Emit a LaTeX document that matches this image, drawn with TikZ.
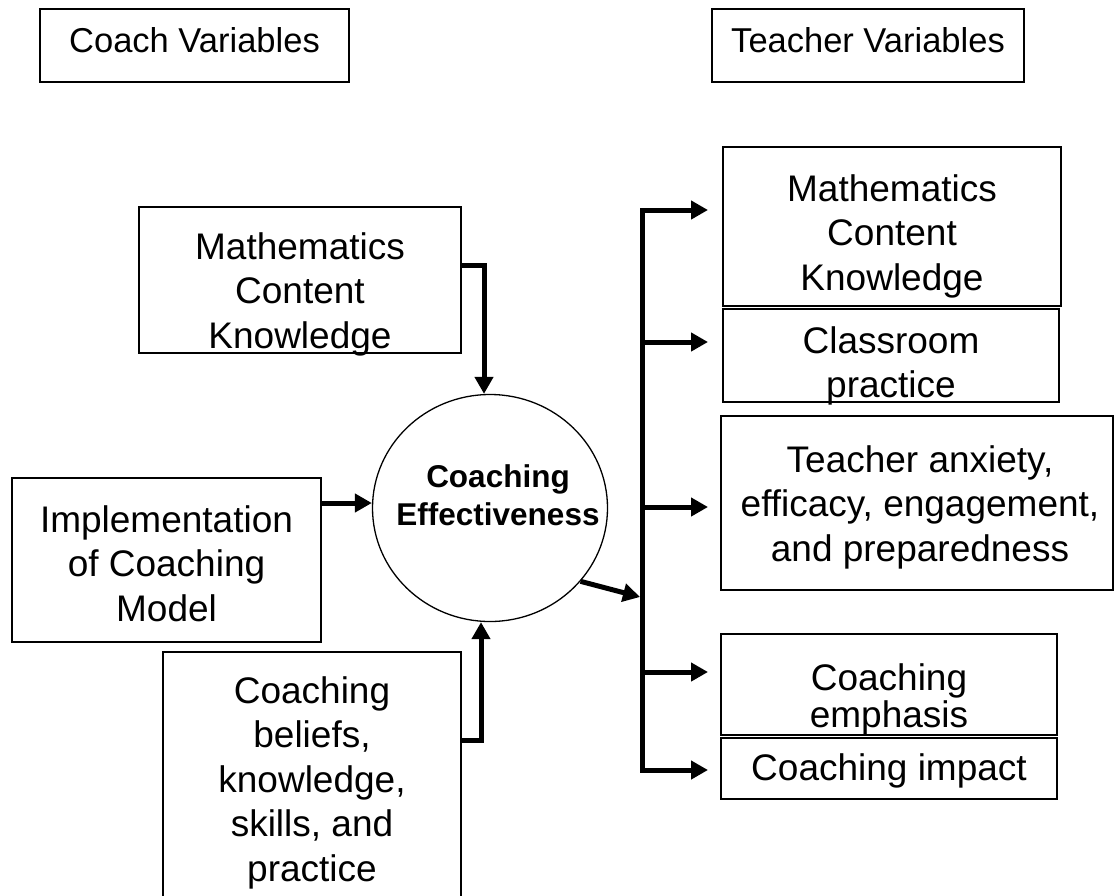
\documentclass[tikz,border=0pt]{standalone}
\usepackage{fontspec}
\setmainfont{Liberation Sans}
\usetikzlibrary{arrows.meta,shapes.geometric}
% centred multi-line text whose baseline is that of its first line
\newcommand{\linestack}[1]{\begin{tabular}[t]{@{}c@{}}#1\end{tabular}}

\begin{document}
\begin{tikzpicture}[x=1pt,y=-1pt,
  frame/.style={draw, line width=1.6pt, inner sep=0pt, rectangle},
  txt/.style={anchor=base, inner sep=0pt, font=\fontsize{37}{44.5}\selectfont},
  headtxt/.style={anchor=base, inner sep=0pt, font=\fontsize{34.5}{40}\selectfont},
  conn/.style={line width=5pt, line join=miter,
    -{Triangle[length=17pt,width=18pt]}},
  bothconn/.style={line width=5pt, line join=miter,
    {Triangle[length=17pt,width=18pt]}-{Triangle[length=17pt,width=18pt]}}]
\useasboundingbox (0,0) rectangle (1115,895);
\clip (0,0) rectangle (1115,895);

% headings
\node[frame, minimum width=309, minimum height=73] (cvar) at (194.5,45.5) {};
\node[headtxt] (cvart) at (194.5,52) {Coach Variables};
\node[frame, minimum width=312, minimum height=73] (tvar) at (868,45.5) {};
\node[headtxt] (tvart) at (868,52) {Teacher Variables};

% coach side
\node[frame, minimum width=322, minimum height=146] (lmck) at (300,280) {};
\node[txt] (lmckt) at (300,259) {\linestack{Mathematics\\Content\\Knowledge}};
\node[frame, minimum width=309, minimum height=164] (impl) at (166.5,560) {};
\node[txt] (implt) at (166.5,532) {\linestack{Implementation\\of Coaching\\Model}};
\node[frame, minimum width=298, minimum height=253] (bel) at (312,778.5) {};
\node[txt] (belt) at (312,703) {\linestack{Coaching\\beliefs,\\knowledge,\\skills, and\\practice}};

% central outcome
\node[draw, ellipse, line width=1.3pt, minimum width=235, minimum height=227,
  inner sep=0pt] (ce) at (490,508) {};
\node[anchor=base, inner sep=0pt, font=\fontsize{31.5}{38}\selectfont\bfseries]
  (cet) at (498,487) {\linestack{Coaching\\Effectiveness}};

% teacher side
\node[frame, minimum width=338, minimum height=159] (rmck) at (892,226.5) {};
\node[txt] (rmckt) at (892,201) {\linestack{Mathematics\\Content\\Knowledge}};
\node[frame, minimum width=336, minimum height=93] (cls) at (891,355.5) {};
\node[txt] (clst) at (891,353) {\linestack{Classroom\\practice}};
\node[frame, minimum width=392, minimum height=174] (anx) at (917,503) {};
\node[txt] (anxt) at (920,472) {\linestack{Teacher anxiety,\\efficacy, engagement,\\and preparedness}};
\node[frame, minimum width=336, minimum height=101] (emp) at (889,684.5) {};
\node[txt, font=\fontsize{37}{37}\selectfont] (empt) at (889,690) {\linestack{Coaching\\emphasis}};
\node[frame, minimum width=336, minimum height=61] (imp) at (889,768.5) {};
\node[txt] (impt) at (889,780) {Coaching impact};

% inputs into the outcome
\coordinate (j1) at (484,265);
\coordinate (j2) at (0,503);
\coordinate (j3) at (481,740);
\draw[conn] (lmck.east |- j1) -- (j1) -- (j1 |- ce.north);
\draw[conn] (impl.east |- j2) -- (ce.west |- j2);
\draw[conn] (bel.east |- j3) -- (j3) -- (j3 |- ce.south);

% distribution trunk to teacher variables
\coordinate (t1) at (642,210);
\coordinate (t2) at (642,342);
\coordinate (t3) at (642,507);
\coordinate (t4) at (642,672);
\coordinate (t5) at (642,770);
\coordinate (tin) at (640,597);
\coordinate (h1) at (708,210);
\coordinate (h2) at (708,342);
\coordinate (h3) at (708,507);
\coordinate (h4) at (708,672);
\coordinate (h5) at (708,770);
\draw[conn] (ce.-39) -- (tin);
\draw[bothconn] (h1) -- (t1) -- (t5) -- (h5);
\draw[conn] (t2) -- (h2);
\draw[conn] (t3) -- (h3);
\draw[conn] (t4) -- (h4);
\end{tikzpicture}
\end{document}
